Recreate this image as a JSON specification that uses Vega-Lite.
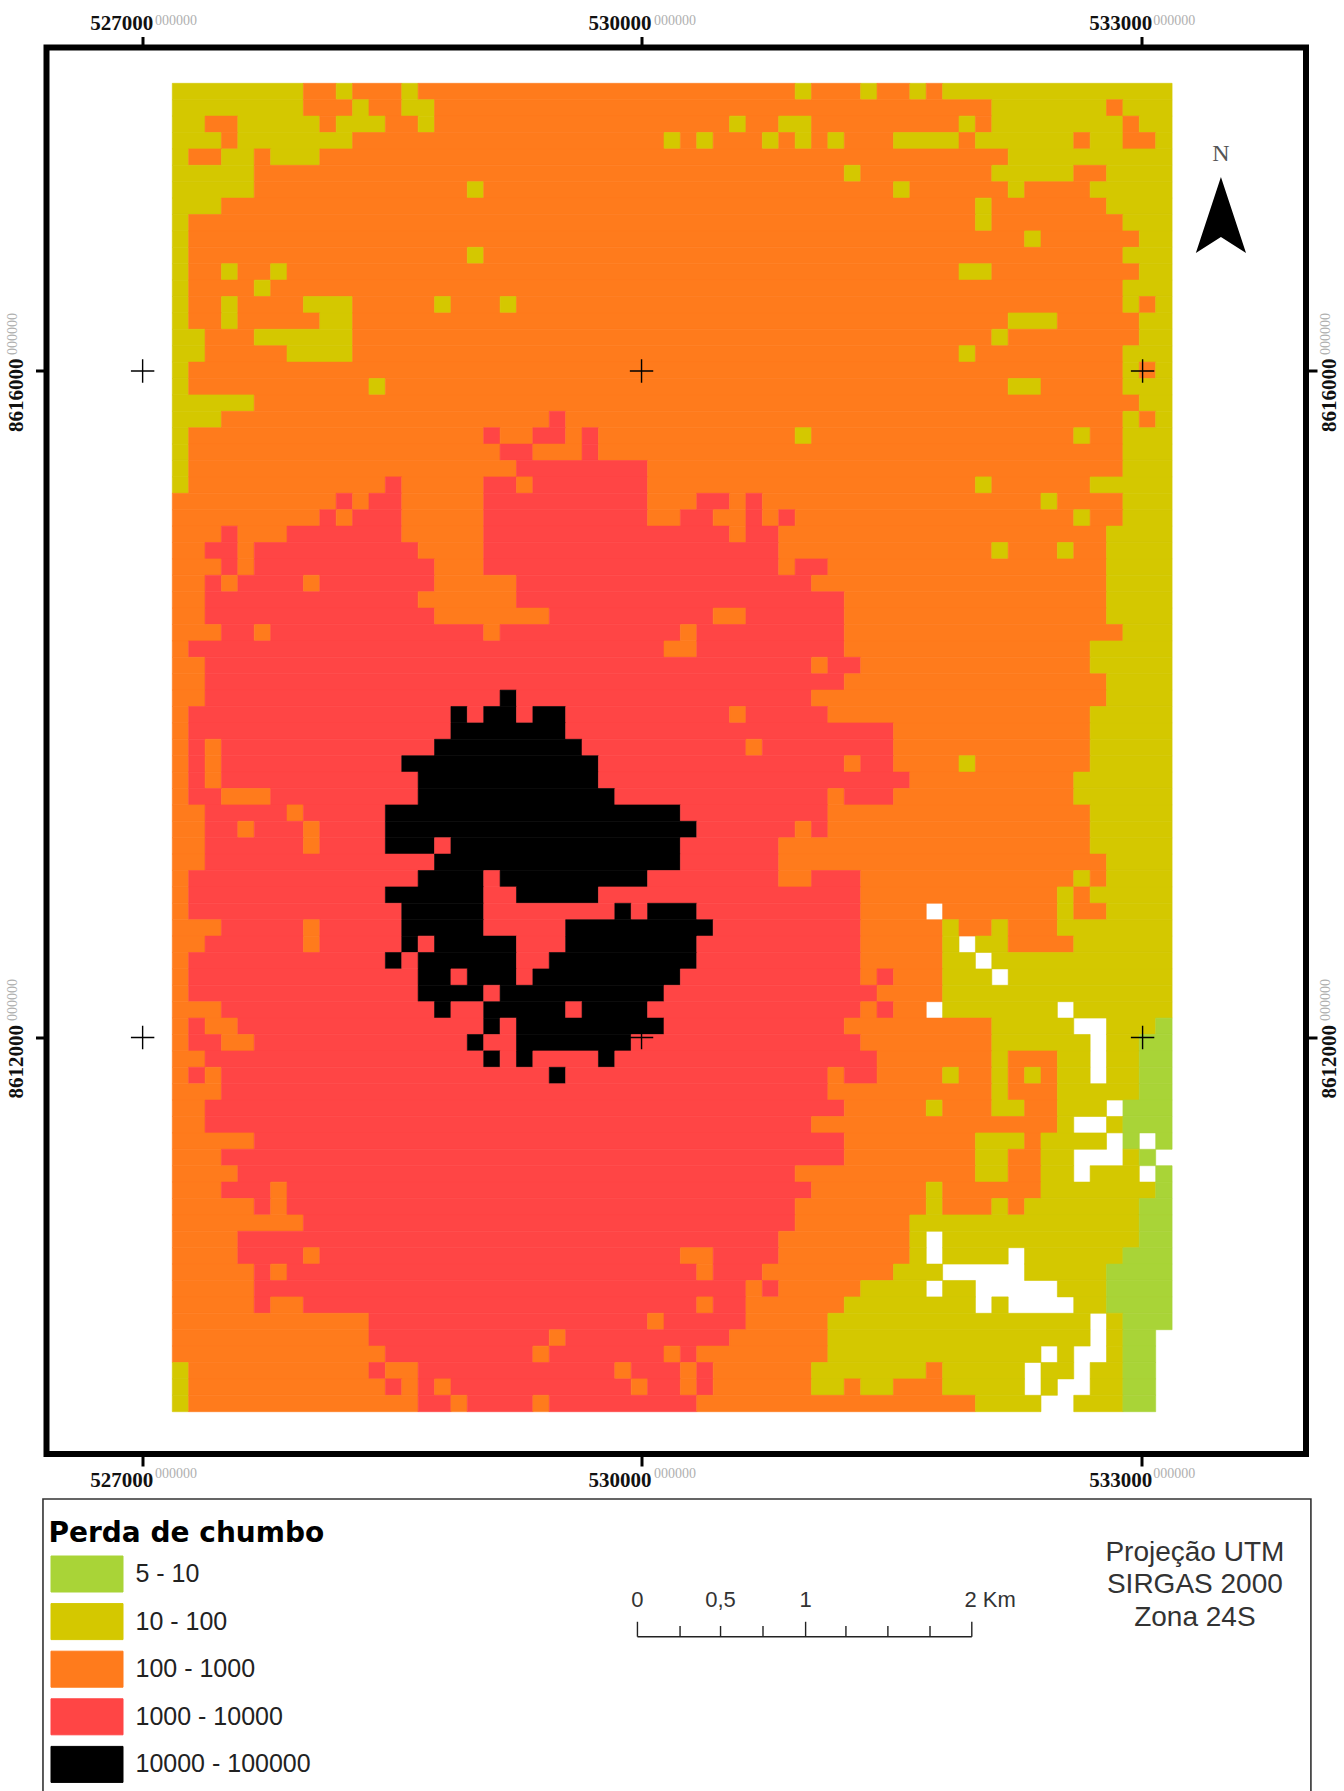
{"$schema":"https://vega.github.io/schema/vega-lite/v6.json","width":1259.5,"height":1406.5,"autosize":{"type":"none"},"padding":{"left":46.5,"top":47.5,"right":38,"bottom":337},"background":"#ffffff","view":{"stroke":"#000000","strokeWidth":6,"fill":null},"resolve":{"axis":{"x":"independent","y":"independent"}},
"datasets":{"cells":[
{"a":0,"b":8,"r":0,"c":2},{"a":8,"b":10,"r":0,"c":3},{"a":10,"b":11,"r":0,"c":2},{"a":11,"b":14,"r":0,"c":3},{"a":14,"b":15,"r":0,"c":2},{"a":15,"b":38,"r":0,"c":3},{"a":38,"b":39,"r":0,"c":2},{"a":39,"b":42,"r":0,"c":3},{"a":42,"b":43,"r":0,"c":2},{"a":43,"b":45,"r":0,"c":3},{"a":45,"b":46,"r":0,"c":2},{"a":46,"b":47,"r":0,"c":3},{"a":47,"b":61,"r":0,"c":2},
{"a":0,"b":8,"r":1,"c":2},{"a":8,"b":11,"r":1,"c":3},{"a":11,"b":12,"r":1,"c":2},{"a":12,"b":14,"r":1,"c":3},{"a":14,"b":16,"r":1,"c":2},{"a":16,"b":50,"r":1,"c":3},{"a":50,"b":57,"r":1,"c":2},{"a":57,"b":58,"r":1,"c":3},{"a":58,"b":61,"r":1,"c":2},
{"a":0,"b":2,"r":2,"c":2},{"a":2,"b":4,"r":2,"c":3},{"a":4,"b":9,"r":2,"c":2},{"a":9,"b":10,"r":2,"c":3},{"a":10,"b":13,"r":2,"c":2},{"a":13,"b":15,"r":2,"c":3},{"a":15,"b":16,"r":2,"c":2},{"a":16,"b":34,"r":2,"c":3},{"a":34,"b":35,"r":2,"c":2},{"a":35,"b":37,"r":2,"c":3},{"a":37,"b":39,"r":2,"c":2},{"a":39,"b":48,"r":2,"c":3},{"a":48,"b":49,"r":2,"c":2},{"a":49,"b":50,"r":2,"c":3},{"a":50,"b":58,"r":2,"c":2},{"a":58,"b":59,"r":2,"c":3},{"a":59,"b":61,"r":2,"c":2},
{"a":0,"b":3,"r":3,"c":2},{"a":3,"b":4,"r":3,"c":3},{"a":4,"b":11,"r":3,"c":2},{"a":11,"b":30,"r":3,"c":3},{"a":30,"b":31,"r":3,"c":2},{"a":31,"b":32,"r":3,"c":3},{"a":32,"b":33,"r":3,"c":2},{"a":33,"b":36,"r":3,"c":3},{"a":36,"b":37,"r":3,"c":2},{"a":37,"b":38,"r":3,"c":3},{"a":38,"b":39,"r":3,"c":2},{"a":39,"b":40,"r":3,"c":3},{"a":40,"b":41,"r":3,"c":2},{"a":41,"b":44,"r":3,"c":3},{"a":44,"b":48,"r":3,"c":2},{"a":48,"b":49,"r":3,"c":3},{"a":49,"b":55,"r":3,"c":2},{"a":55,"b":56,"r":3,"c":3},{"a":56,"b":58,"r":3,"c":2},{"a":58,"b":60,"r":3,"c":3},{"a":60,"b":61,"r":3,"c":2},
{"a":0,"b":1,"r":4,"c":2},{"a":1,"b":3,"r":4,"c":3},{"a":3,"b":5,"r":4,"c":2},{"a":5,"b":6,"r":4,"c":3},{"a":6,"b":9,"r":4,"c":2},{"a":9,"b":51,"r":4,"c":3},{"a":51,"b":61,"r":4,"c":2},
{"a":0,"b":5,"r":5,"c":2},{"a":5,"b":41,"r":5,"c":3},{"a":41,"b":42,"r":5,"c":2},{"a":42,"b":50,"r":5,"c":3},{"a":50,"b":55,"r":5,"c":2},{"a":55,"b":57,"r":5,"c":3},{"a":57,"b":61,"r":5,"c":2},
{"a":0,"b":5,"r":6,"c":2},{"a":5,"b":18,"r":6,"c":3},{"a":18,"b":19,"r":6,"c":2},{"a":19,"b":44,"r":6,"c":3},{"a":44,"b":45,"r":6,"c":2},{"a":45,"b":51,"r":6,"c":3},{"a":51,"b":52,"r":6,"c":2},{"a":52,"b":56,"r":6,"c":3},{"a":56,"b":61,"r":6,"c":2},
{"a":0,"b":3,"r":7,"c":2},{"a":3,"b":49,"r":7,"c":3},{"a":49,"b":50,"r":7,"c":2},{"a":50,"b":57,"r":7,"c":3},{"a":57,"b":61,"r":7,"c":2},
{"a":0,"b":1,"r":8,"c":2},{"a":1,"b":49,"r":8,"c":3},{"a":49,"b":50,"r":8,"c":2},{"a":50,"b":58,"r":8,"c":3},{"a":58,"b":61,"r":8,"c":2},
{"a":0,"b":1,"r":9,"c":2},{"a":1,"b":52,"r":9,"c":3},{"a":52,"b":53,"r":9,"c":2},{"a":53,"b":59,"r":9,"c":3},{"a":59,"b":61,"r":9,"c":2},
{"a":0,"b":1,"r":10,"c":2},{"a":1,"b":18,"r":10,"c":3},{"a":18,"b":19,"r":10,"c":2},{"a":19,"b":58,"r":10,"c":3},{"a":58,"b":61,"r":10,"c":2},
{"a":0,"b":1,"r":11,"c":2},{"a":1,"b":3,"r":11,"c":3},{"a":3,"b":4,"r":11,"c":2},{"a":4,"b":6,"r":11,"c":3},{"a":6,"b":7,"r":11,"c":2},{"a":7,"b":48,"r":11,"c":3},{"a":48,"b":50,"r":11,"c":2},{"a":50,"b":59,"r":11,"c":3},{"a":59,"b":61,"r":11,"c":2},
{"a":0,"b":1,"r":12,"c":2},{"a":1,"b":5,"r":12,"c":3},{"a":5,"b":6,"r":12,"c":2},{"a":6,"b":58,"r":12,"c":3},{"a":58,"b":61,"r":12,"c":2},
{"a":0,"b":1,"r":13,"c":2},{"a":1,"b":3,"r":13,"c":3},{"a":3,"b":4,"r":13,"c":2},{"a":4,"b":8,"r":13,"c":3},{"a":8,"b":11,"r":13,"c":2},{"a":11,"b":16,"r":13,"c":3},{"a":16,"b":17,"r":13,"c":2},{"a":17,"b":20,"r":13,"c":3},{"a":20,"b":21,"r":13,"c":2},{"a":21,"b":58,"r":13,"c":3},{"a":58,"b":59,"r":13,"c":2},{"a":59,"b":60,"r":13,"c":3},{"a":60,"b":61,"r":13,"c":2},
{"a":0,"b":1,"r":14,"c":2},{"a":1,"b":3,"r":14,"c":3},{"a":3,"b":4,"r":14,"c":2},{"a":4,"b":9,"r":14,"c":3},{"a":9,"b":11,"r":14,"c":2},{"a":11,"b":51,"r":14,"c":3},{"a":51,"b":54,"r":14,"c":2},{"a":54,"b":59,"r":14,"c":3},{"a":59,"b":61,"r":14,"c":2},
{"a":0,"b":2,"r":15,"c":2},{"a":2,"b":5,"r":15,"c":3},{"a":5,"b":11,"r":15,"c":2},{"a":11,"b":50,"r":15,"c":3},{"a":50,"b":51,"r":15,"c":2},{"a":51,"b":59,"r":15,"c":3},{"a":59,"b":61,"r":15,"c":2},
{"a":0,"b":2,"r":16,"c":2},{"a":2,"b":7,"r":16,"c":3},{"a":7,"b":11,"r":16,"c":2},{"a":11,"b":48,"r":16,"c":3},{"a":48,"b":49,"r":16,"c":2},{"a":49,"b":58,"r":16,"c":3},{"a":58,"b":61,"r":16,"c":2},
{"a":0,"b":1,"r":17,"c":2},{"a":1,"b":58,"r":17,"c":3},{"a":58,"b":59,"r":17,"c":2},{"a":59,"b":60,"r":17,"c":3},{"a":60,"b":61,"r":17,"c":2},
{"a":0,"b":1,"r":18,"c":2},{"a":1,"b":12,"r":18,"c":3},{"a":12,"b":13,"r":18,"c":2},{"a":13,"b":51,"r":18,"c":3},{"a":51,"b":53,"r":18,"c":2},{"a":53,"b":58,"r":18,"c":3},{"a":58,"b":61,"r":18,"c":2},
{"a":0,"b":5,"r":19,"c":2},{"a":5,"b":59,"r":19,"c":3},{"a":59,"b":61,"r":19,"c":2},
{"a":0,"b":3,"r":20,"c":2},{"a":3,"b":23,"r":20,"c":3},{"a":23,"b":24,"r":20,"c":4},{"a":24,"b":58,"r":20,"c":3},{"a":58,"b":59,"r":20,"c":2},{"a":59,"b":60,"r":20,"c":3},{"a":60,"b":61,"r":20,"c":2},
{"a":0,"b":1,"r":21,"c":2},{"a":1,"b":19,"r":21,"c":3},{"a":19,"b":20,"r":21,"c":4},{"a":20,"b":22,"r":21,"c":3},{"a":22,"b":24,"r":21,"c":4},{"a":24,"b":25,"r":21,"c":3},{"a":25,"b":26,"r":21,"c":4},{"a":26,"b":38,"r":21,"c":3},{"a":38,"b":39,"r":21,"c":2},{"a":39,"b":55,"r":21,"c":3},{"a":55,"b":56,"r":21,"c":2},{"a":56,"b":58,"r":21,"c":3},{"a":58,"b":61,"r":21,"c":2},
{"a":0,"b":1,"r":22,"c":2},{"a":1,"b":20,"r":22,"c":3},{"a":20,"b":22,"r":22,"c":4},{"a":22,"b":25,"r":22,"c":3},{"a":25,"b":26,"r":22,"c":4},{"a":26,"b":58,"r":22,"c":3},{"a":58,"b":61,"r":22,"c":2},
{"a":0,"b":1,"r":23,"c":2},{"a":1,"b":21,"r":23,"c":3},{"a":21,"b":29,"r":23,"c":4},{"a":29,"b":58,"r":23,"c":3},{"a":58,"b":61,"r":23,"c":2},
{"a":0,"b":1,"r":24,"c":2},{"a":1,"b":13,"r":24,"c":3},{"a":13,"b":14,"r":24,"c":4},{"a":14,"b":19,"r":24,"c":3},{"a":19,"b":21,"r":24,"c":4},{"a":21,"b":22,"r":24,"c":3},{"a":22,"b":29,"r":24,"c":4},{"a":29,"b":49,"r":24,"c":3},{"a":49,"b":50,"r":24,"c":2},{"a":50,"b":56,"r":24,"c":3},{"a":56,"b":61,"r":24,"c":2},
{"a":0,"b":10,"r":25,"c":3},{"a":10,"b":11,"r":25,"c":4},{"a":11,"b":12,"r":25,"c":3},{"a":12,"b":14,"r":25,"c":4},{"a":14,"b":19,"r":25,"c":3},{"a":19,"b":29,"r":25,"c":4},{"a":29,"b":32,"r":25,"c":3},{"a":32,"b":34,"r":25,"c":4},{"a":34,"b":35,"r":25,"c":3},{"a":35,"b":36,"r":25,"c":4},{"a":36,"b":53,"r":25,"c":3},{"a":53,"b":54,"r":25,"c":2},{"a":54,"b":58,"r":25,"c":3},{"a":58,"b":61,"r":25,"c":2},
{"a":0,"b":9,"r":26,"c":3},{"a":9,"b":10,"r":26,"c":4},{"a":10,"b":11,"r":26,"c":3},{"a":11,"b":14,"r":26,"c":4},{"a":14,"b":19,"r":26,"c":3},{"a":19,"b":29,"r":26,"c":4},{"a":29,"b":31,"r":26,"c":3},{"a":31,"b":33,"r":26,"c":4},{"a":33,"b":35,"r":26,"c":3},{"a":35,"b":36,"r":26,"c":4},{"a":36,"b":37,"r":26,"c":3},{"a":37,"b":38,"r":26,"c":4},{"a":38,"b":55,"r":26,"c":3},{"a":55,"b":56,"r":26,"c":2},{"a":56,"b":58,"r":26,"c":3},{"a":58,"b":61,"r":26,"c":2},
{"a":0,"b":3,"r":27,"c":3},{"a":3,"b":4,"r":27,"c":4},{"a":4,"b":7,"r":27,"c":3},{"a":7,"b":14,"r":27,"c":4},{"a":14,"b":19,"r":27,"c":3},{"a":19,"b":34,"r":27,"c":4},{"a":34,"b":35,"r":27,"c":3},{"a":35,"b":37,"r":27,"c":4},{"a":37,"b":57,"r":27,"c":3},{"a":57,"b":61,"r":27,"c":2},
{"a":0,"b":2,"r":28,"c":3},{"a":2,"b":4,"r":28,"c":4},{"a":4,"b":5,"r":28,"c":3},{"a":5,"b":15,"r":28,"c":4},{"a":15,"b":19,"r":28,"c":3},{"a":19,"b":37,"r":28,"c":4},{"a":37,"b":50,"r":28,"c":3},{"a":50,"b":51,"r":28,"c":2},{"a":51,"b":54,"r":28,"c":3},{"a":54,"b":55,"r":28,"c":2},{"a":55,"b":57,"r":28,"c":3},{"a":57,"b":61,"r":28,"c":2},
{"a":0,"b":3,"r":29,"c":3},{"a":3,"b":4,"r":29,"c":4},{"a":4,"b":5,"r":29,"c":3},{"a":5,"b":16,"r":29,"c":4},{"a":16,"b":19,"r":29,"c":3},{"a":19,"b":37,"r":29,"c":4},{"a":37,"b":38,"r":29,"c":3},{"a":38,"b":40,"r":29,"c":4},{"a":40,"b":57,"r":29,"c":3},{"a":57,"b":61,"r":29,"c":2},
{"a":0,"b":2,"r":30,"c":3},{"a":2,"b":3,"r":30,"c":4},{"a":3,"b":4,"r":30,"c":3},{"a":4,"b":8,"r":30,"c":4},{"a":8,"b":9,"r":30,"c":3},{"a":9,"b":16,"r":30,"c":4},{"a":16,"b":21,"r":30,"c":3},{"a":21,"b":39,"r":30,"c":4},{"a":39,"b":57,"r":30,"c":3},{"a":57,"b":61,"r":30,"c":2},
{"a":0,"b":2,"r":31,"c":3},{"a":2,"b":15,"r":31,"c":4},{"a":15,"b":21,"r":31,"c":3},{"a":21,"b":41,"r":31,"c":4},{"a":41,"b":57,"r":31,"c":3},{"a":57,"b":61,"r":31,"c":2},
{"a":0,"b":2,"r":32,"c":3},{"a":2,"b":16,"r":32,"c":4},{"a":16,"b":23,"r":32,"c":3},{"a":23,"b":33,"r":32,"c":4},{"a":33,"b":35,"r":32,"c":3},{"a":35,"b":41,"r":32,"c":4},{"a":41,"b":57,"r":32,"c":3},{"a":57,"b":61,"r":32,"c":2},
{"a":0,"b":3,"r":33,"c":3},{"a":3,"b":5,"r":33,"c":4},{"a":5,"b":6,"r":33,"c":3},{"a":6,"b":19,"r":33,"c":4},{"a":19,"b":20,"r":33,"c":3},{"a":20,"b":31,"r":33,"c":4},{"a":31,"b":32,"r":33,"c":3},{"a":32,"b":41,"r":33,"c":4},{"a":41,"b":58,"r":33,"c":3},{"a":58,"b":61,"r":33,"c":2},
{"a":0,"b":1,"r":34,"c":3},{"a":1,"b":30,"r":34,"c":4},{"a":30,"b":32,"r":34,"c":3},{"a":32,"b":41,"r":34,"c":4},{"a":41,"b":56,"r":34,"c":3},{"a":56,"b":61,"r":34,"c":2},
{"a":0,"b":2,"r":35,"c":3},{"a":2,"b":39,"r":35,"c":4},{"a":39,"b":40,"r":35,"c":3},{"a":40,"b":42,"r":35,"c":4},{"a":42,"b":56,"r":35,"c":3},{"a":56,"b":61,"r":35,"c":2},
{"a":0,"b":2,"r":36,"c":3},{"a":2,"b":41,"r":36,"c":4},{"a":41,"b":57,"r":36,"c":3},{"a":57,"b":61,"r":36,"c":2},
{"a":0,"b":2,"r":37,"c":3},{"a":2,"b":20,"r":37,"c":4},{"a":20,"b":21,"r":37,"c":5},{"a":21,"b":39,"r":37,"c":4},{"a":39,"b":57,"r":37,"c":3},{"a":57,"b":61,"r":37,"c":2},
{"a":0,"b":1,"r":38,"c":3},{"a":1,"b":17,"r":38,"c":4},{"a":17,"b":18,"r":38,"c":5},{"a":18,"b":19,"r":38,"c":4},{"a":19,"b":21,"r":38,"c":5},{"a":21,"b":22,"r":38,"c":4},{"a":22,"b":24,"r":38,"c":5},{"a":24,"b":34,"r":38,"c":4},{"a":34,"b":35,"r":38,"c":3},{"a":35,"b":40,"r":38,"c":4},{"a":40,"b":56,"r":38,"c":3},{"a":56,"b":61,"r":38,"c":2},
{"a":0,"b":1,"r":39,"c":3},{"a":1,"b":17,"r":39,"c":4},{"a":17,"b":24,"r":39,"c":5},{"a":24,"b":44,"r":39,"c":4},{"a":44,"b":56,"r":39,"c":3},{"a":56,"b":61,"r":39,"c":2},
{"a":0,"b":1,"r":40,"c":3},{"a":1,"b":2,"r":40,"c":4},{"a":2,"b":3,"r":40,"c":3},{"a":3,"b":16,"r":40,"c":4},{"a":16,"b":25,"r":40,"c":5},{"a":25,"b":35,"r":40,"c":4},{"a":35,"b":36,"r":40,"c":3},{"a":36,"b":44,"r":40,"c":4},{"a":44,"b":56,"r":40,"c":3},{"a":56,"b":61,"r":40,"c":2},
{"a":0,"b":1,"r":41,"c":3},{"a":1,"b":2,"r":41,"c":4},{"a":2,"b":3,"r":41,"c":3},{"a":3,"b":14,"r":41,"c":4},{"a":14,"b":26,"r":41,"c":5},{"a":26,"b":41,"r":41,"c":4},{"a":41,"b":42,"r":41,"c":3},{"a":42,"b":44,"r":41,"c":4},{"a":44,"b":48,"r":41,"c":3},{"a":48,"b":49,"r":41,"c":2},{"a":49,"b":56,"r":41,"c":3},{"a":56,"b":61,"r":41,"c":2},
{"a":0,"b":1,"r":42,"c":3},{"a":1,"b":2,"r":42,"c":4},{"a":2,"b":3,"r":42,"c":3},{"a":3,"b":15,"r":42,"c":4},{"a":15,"b":26,"r":42,"c":5},{"a":26,"b":45,"r":42,"c":4},{"a":45,"b":55,"r":42,"c":3},{"a":55,"b":61,"r":42,"c":2},
{"a":0,"b":1,"r":43,"c":3},{"a":1,"b":3,"r":43,"c":4},{"a":3,"b":6,"r":43,"c":3},{"a":6,"b":15,"r":43,"c":4},{"a":15,"b":27,"r":43,"c":5},{"a":27,"b":40,"r":43,"c":4},{"a":40,"b":41,"r":43,"c":3},{"a":41,"b":44,"r":43,"c":4},{"a":44,"b":55,"r":43,"c":3},{"a":55,"b":61,"r":43,"c":2},
{"a":0,"b":2,"r":44,"c":3},{"a":2,"b":7,"r":44,"c":4},{"a":7,"b":8,"r":44,"c":3},{"a":8,"b":13,"r":44,"c":4},{"a":13,"b":31,"r":44,"c":5},{"a":31,"b":40,"r":44,"c":4},{"a":40,"b":56,"r":44,"c":3},{"a":56,"b":61,"r":44,"c":2},
{"a":0,"b":2,"r":45,"c":3},{"a":2,"b":4,"r":45,"c":4},{"a":4,"b":5,"r":45,"c":3},{"a":5,"b":8,"r":45,"c":4},{"a":8,"b":9,"r":45,"c":3},{"a":9,"b":13,"r":45,"c":4},{"a":13,"b":32,"r":45,"c":5},{"a":32,"b":38,"r":45,"c":4},{"a":38,"b":39,"r":45,"c":3},{"a":39,"b":40,"r":45,"c":4},{"a":40,"b":56,"r":45,"c":3},{"a":56,"b":61,"r":45,"c":2},
{"a":0,"b":2,"r":46,"c":3},{"a":2,"b":8,"r":46,"c":4},{"a":8,"b":9,"r":46,"c":3},{"a":9,"b":13,"r":46,"c":4},{"a":13,"b":16,"r":46,"c":5},{"a":16,"b":17,"r":46,"c":4},{"a":17,"b":31,"r":46,"c":5},{"a":31,"b":37,"r":46,"c":4},{"a":37,"b":56,"r":46,"c":3},{"a":56,"b":61,"r":46,"c":2},
{"a":0,"b":2,"r":47,"c":3},{"a":2,"b":16,"r":47,"c":4},{"a":16,"b":31,"r":47,"c":5},{"a":31,"b":37,"r":47,"c":4},{"a":37,"b":57,"r":47,"c":3},{"a":57,"b":61,"r":47,"c":2},
{"a":0,"b":1,"r":48,"c":3},{"a":1,"b":15,"r":48,"c":4},{"a":15,"b":19,"r":48,"c":5},{"a":19,"b":20,"r":48,"c":4},{"a":20,"b":29,"r":48,"c":5},{"a":29,"b":37,"r":48,"c":4},{"a":37,"b":39,"r":48,"c":3},{"a":39,"b":42,"r":48,"c":4},{"a":42,"b":55,"r":48,"c":3},{"a":55,"b":56,"r":48,"c":2},{"a":56,"b":57,"r":48,"c":3},{"a":57,"b":61,"r":48,"c":2},
{"a":0,"b":1,"r":49,"c":3},{"a":1,"b":13,"r":49,"c":4},{"a":13,"b":19,"r":49,"c":5},{"a":19,"b":21,"r":49,"c":4},{"a":21,"b":26,"r":49,"c":5},{"a":26,"b":42,"r":49,"c":4},{"a":42,"b":54,"r":49,"c":3},{"a":54,"b":55,"r":49,"c":2},{"a":55,"b":56,"r":49,"c":3},{"a":56,"b":61,"r":49,"c":2},
{"a":0,"b":1,"r":50,"c":3},{"a":1,"b":14,"r":50,"c":4},{"a":14,"b":19,"r":50,"c":5},{"a":19,"b":27,"r":50,"c":4},{"a":27,"b":28,"r":50,"c":5},{"a":28,"b":29,"r":50,"c":4},{"a":29,"b":32,"r":50,"c":5},{"a":32,"b":42,"r":50,"c":4},{"a":42,"b":46,"r":50,"c":3},{"a":47,"b":54,"r":50,"c":3},{"a":54,"b":55,"r":50,"c":2},{"a":55,"b":57,"r":50,"c":3},{"a":57,"b":61,"r":50,"c":2},
{"a":0,"b":3,"r":51,"c":3},{"a":3,"b":8,"r":51,"c":4},{"a":8,"b":9,"r":51,"c":3},{"a":9,"b":14,"r":51,"c":4},{"a":14,"b":19,"r":51,"c":5},{"a":19,"b":24,"r":51,"c":4},{"a":24,"b":33,"r":51,"c":5},{"a":33,"b":42,"r":51,"c":4},{"a":42,"b":47,"r":51,"c":3},{"a":47,"b":48,"r":51,"c":2},{"a":48,"b":50,"r":51,"c":3},{"a":50,"b":51,"r":51,"c":2},{"a":51,"b":54,"r":51,"c":3},{"a":54,"b":61,"r":51,"c":2},
{"a":0,"b":2,"r":52,"c":3},{"a":2,"b":8,"r":52,"c":4},{"a":8,"b":9,"r":52,"c":3},{"a":9,"b":14,"r":52,"c":4},{"a":14,"b":15,"r":52,"c":5},{"a":15,"b":16,"r":52,"c":4},{"a":16,"b":21,"r":52,"c":5},{"a":21,"b":24,"r":52,"c":4},{"a":24,"b":32,"r":52,"c":5},{"a":32,"b":42,"r":52,"c":4},{"a":42,"b":47,"r":52,"c":3},{"a":47,"b":48,"r":52,"c":2},{"a":49,"b":51,"r":52,"c":2},{"a":51,"b":55,"r":52,"c":3},{"a":55,"b":61,"r":52,"c":2},
{"a":0,"b":1,"r":53,"c":3},{"a":1,"b":13,"r":53,"c":4},{"a":13,"b":14,"r":53,"c":5},{"a":14,"b":15,"r":53,"c":4},{"a":15,"b":21,"r":53,"c":5},{"a":21,"b":23,"r":53,"c":4},{"a":23,"b":32,"r":53,"c":5},{"a":32,"b":42,"r":53,"c":4},{"a":42,"b":47,"r":53,"c":3},{"a":47,"b":49,"r":53,"c":2},{"a":50,"b":61,"r":53,"c":2},
{"a":0,"b":1,"r":54,"c":3},{"a":1,"b":15,"r":54,"c":4},{"a":15,"b":17,"r":54,"c":5},{"a":17,"b":18,"r":54,"c":4},{"a":18,"b":21,"r":54,"c":5},{"a":21,"b":22,"r":54,"c":4},{"a":22,"b":31,"r":54,"c":5},{"a":31,"b":42,"r":54,"c":4},{"a":42,"b":43,"r":54,"c":3},{"a":43,"b":44,"r":54,"c":4},{"a":44,"b":47,"r":54,"c":3},{"a":47,"b":50,"r":54,"c":2},{"a":51,"b":61,"r":54,"c":2},
{"a":0,"b":1,"r":55,"c":3},{"a":1,"b":15,"r":55,"c":4},{"a":15,"b":19,"r":55,"c":5},{"a":19,"b":20,"r":55,"c":4},{"a":20,"b":30,"r":55,"c":5},{"a":30,"b":43,"r":55,"c":4},{"a":43,"b":47,"r":55,"c":3},{"a":47,"b":61,"r":55,"c":2},
{"a":0,"b":3,"r":56,"c":3},{"a":3,"b":16,"r":56,"c":4},{"a":16,"b":17,"r":56,"c":5},{"a":17,"b":19,"r":56,"c":4},{"a":19,"b":24,"r":56,"c":5},{"a":24,"b":25,"r":56,"c":4},{"a":25,"b":29,"r":56,"c":5},{"a":29,"b":42,"r":56,"c":4},{"a":42,"b":43,"r":56,"c":3},{"a":43,"b":44,"r":56,"c":4},{"a":44,"b":46,"r":56,"c":3},{"a":47,"b":54,"r":56,"c":2},{"a":55,"b":61,"r":56,"c":2},
{"a":0,"b":1,"r":57,"c":3},{"a":1,"b":2,"r":57,"c":4},{"a":2,"b":4,"r":57,"c":3},{"a":4,"b":19,"r":57,"c":4},{"a":19,"b":20,"r":57,"c":5},{"a":20,"b":21,"r":57,"c":4},{"a":21,"b":30,"r":57,"c":5},{"a":30,"b":41,"r":57,"c":4},{"a":41,"b":50,"r":57,"c":3},{"a":50,"b":55,"r":57,"c":2},{"a":57,"b":60,"r":57,"c":2},{"a":60,"b":61,"r":57,"c":1},
{"a":0,"b":1,"r":58,"c":3},{"a":1,"b":3,"r":58,"c":4},{"a":3,"b":5,"r":58,"c":3},{"a":5,"b":18,"r":58,"c":4},{"a":18,"b":19,"r":58,"c":5},{"a":19,"b":21,"r":58,"c":4},{"a":21,"b":28,"r":58,"c":5},{"a":28,"b":42,"r":58,"c":4},{"a":42,"b":50,"r":58,"c":3},{"a":50,"b":56,"r":58,"c":2},{"a":57,"b":59,"r":58,"c":2},{"a":59,"b":61,"r":58,"c":1},
{"a":0,"b":2,"r":59,"c":3},{"a":2,"b":19,"r":59,"c":4},{"a":19,"b":20,"r":59,"c":5},{"a":20,"b":21,"r":59,"c":4},{"a":21,"b":22,"r":59,"c":5},{"a":22,"b":26,"r":59,"c":4},{"a":26,"b":27,"r":59,"c":5},{"a":27,"b":43,"r":59,"c":4},{"a":43,"b":50,"r":59,"c":3},{"a":50,"b":51,"r":59,"c":2},{"a":51,"b":54,"r":59,"c":3},{"a":54,"b":56,"r":59,"c":2},{"a":57,"b":59,"r":59,"c":2},{"a":59,"b":61,"r":59,"c":1},
{"a":0,"b":1,"r":60,"c":3},{"a":1,"b":2,"r":60,"c":4},{"a":2,"b":3,"r":60,"c":3},{"a":3,"b":23,"r":60,"c":4},{"a":23,"b":24,"r":60,"c":5},{"a":24,"b":40,"r":60,"c":4},{"a":40,"b":41,"r":60,"c":3},{"a":41,"b":43,"r":60,"c":4},{"a":43,"b":47,"r":60,"c":3},{"a":47,"b":48,"r":60,"c":2},{"a":48,"b":50,"r":60,"c":3},{"a":50,"b":51,"r":60,"c":2},{"a":51,"b":52,"r":60,"c":3},{"a":52,"b":53,"r":60,"c":2},{"a":53,"b":54,"r":60,"c":3},{"a":54,"b":56,"r":60,"c":2},{"a":57,"b":59,"r":60,"c":2},{"a":59,"b":61,"r":60,"c":1},
{"a":0,"b":3,"r":61,"c":3},{"a":3,"b":40,"r":61,"c":4},{"a":40,"b":50,"r":61,"c":3},{"a":50,"b":51,"r":61,"c":2},{"a":51,"b":54,"r":61,"c":3},{"a":54,"b":59,"r":61,"c":2},{"a":59,"b":61,"r":61,"c":1},
{"a":0,"b":2,"r":62,"c":3},{"a":2,"b":41,"r":62,"c":4},{"a":41,"b":46,"r":62,"c":3},{"a":46,"b":47,"r":62,"c":2},{"a":47,"b":50,"r":62,"c":3},{"a":50,"b":52,"r":62,"c":2},{"a":52,"b":54,"r":62,"c":3},{"a":54,"b":57,"r":62,"c":2},{"a":58,"b":61,"r":62,"c":1},
{"a":0,"b":2,"r":63,"c":3},{"a":2,"b":39,"r":63,"c":4},{"a":39,"b":54,"r":63,"c":3},{"a":54,"b":55,"r":63,"c":2},{"a":57,"b":58,"r":63,"c":2},{"a":58,"b":61,"r":63,"c":1},
{"a":0,"b":5,"r":64,"c":3},{"a":5,"b":41,"r":64,"c":4},{"a":41,"b":49,"r":64,"c":3},{"a":49,"b":52,"r":64,"c":2},{"a":52,"b":53,"r":64,"c":3},{"a":53,"b":57,"r":64,"c":2},{"a":58,"b":59,"r":64,"c":1},{"a":60,"b":61,"r":64,"c":1},
{"a":0,"b":3,"r":65,"c":3},{"a":3,"b":41,"r":65,"c":4},{"a":41,"b":49,"r":65,"c":3},{"a":49,"b":51,"r":65,"c":2},{"a":51,"b":53,"r":65,"c":3},{"a":53,"b":55,"r":65,"c":2},{"a":58,"b":59,"r":65,"c":2},{"a":59,"b":60,"r":65,"c":1},
{"a":0,"b":4,"r":66,"c":3},{"a":4,"b":38,"r":66,"c":4},{"a":38,"b":49,"r":66,"c":3},{"a":49,"b":51,"r":66,"c":2},{"a":51,"b":53,"r":66,"c":3},{"a":53,"b":55,"r":66,"c":2},{"a":56,"b":59,"r":66,"c":2},{"a":60,"b":61,"r":66,"c":1},
{"a":0,"b":3,"r":67,"c":3},{"a":3,"b":6,"r":67,"c":4},{"a":6,"b":7,"r":67,"c":3},{"a":7,"b":39,"r":67,"c":4},{"a":39,"b":46,"r":67,"c":3},{"a":46,"b":47,"r":67,"c":2},{"a":47,"b":53,"r":67,"c":3},{"a":53,"b":60,"r":67,"c":2},{"a":60,"b":61,"r":67,"c":1},
{"a":0,"b":5,"r":68,"c":3},{"a":5,"b":6,"r":68,"c":4},{"a":6,"b":7,"r":68,"c":3},{"a":7,"b":38,"r":68,"c":4},{"a":38,"b":46,"r":68,"c":3},{"a":46,"b":47,"r":68,"c":2},{"a":47,"b":50,"r":68,"c":3},{"a":50,"b":51,"r":68,"c":2},{"a":51,"b":52,"r":68,"c":3},{"a":52,"b":59,"r":68,"c":2},{"a":59,"b":61,"r":68,"c":1},
{"a":0,"b":8,"r":69,"c":3},{"a":8,"b":38,"r":69,"c":4},{"a":38,"b":45,"r":69,"c":3},{"a":45,"b":59,"r":69,"c":2},{"a":59,"b":61,"r":69,"c":1},
{"a":0,"b":4,"r":70,"c":3},{"a":4,"b":37,"r":70,"c":4},{"a":37,"b":45,"r":70,"c":3},{"a":45,"b":46,"r":70,"c":2},{"a":47,"b":59,"r":70,"c":2},{"a":59,"b":61,"r":70,"c":1},
{"a":0,"b":4,"r":71,"c":3},{"a":4,"b":8,"r":71,"c":4},{"a":8,"b":9,"r":71,"c":3},{"a":9,"b":31,"r":71,"c":4},{"a":31,"b":33,"r":71,"c":3},{"a":33,"b":37,"r":71,"c":4},{"a":37,"b":45,"r":71,"c":3},{"a":45,"b":46,"r":71,"c":2},{"a":47,"b":51,"r":71,"c":2},{"a":52,"b":58,"r":71,"c":2},{"a":58,"b":61,"r":71,"c":1},
{"a":0,"b":5,"r":72,"c":3},{"a":5,"b":6,"r":72,"c":4},{"a":6,"b":7,"r":72,"c":3},{"a":7,"b":32,"r":72,"c":4},{"a":32,"b":33,"r":72,"c":3},{"a":33,"b":36,"r":72,"c":4},{"a":36,"b":44,"r":72,"c":3},{"a":44,"b":47,"r":72,"c":2},{"a":52,"b":57,"r":72,"c":2},{"a":57,"b":61,"r":72,"c":1},
{"a":0,"b":5,"r":73,"c":3},{"a":5,"b":35,"r":73,"c":4},{"a":35,"b":36,"r":73,"c":3},{"a":36,"b":37,"r":73,"c":4},{"a":37,"b":42,"r":73,"c":3},{"a":42,"b":46,"r":73,"c":2},{"a":47,"b":49,"r":73,"c":2},{"a":54,"b":57,"r":73,"c":2},{"a":57,"b":61,"r":73,"c":1},
{"a":0,"b":5,"r":74,"c":3},{"a":5,"b":6,"r":74,"c":4},{"a":6,"b":8,"r":74,"c":3},{"a":8,"b":32,"r":74,"c":4},{"a":32,"b":33,"r":74,"c":3},{"a":33,"b":35,"r":74,"c":4},{"a":35,"b":41,"r":74,"c":3},{"a":41,"b":49,"r":74,"c":2},{"a":50,"b":51,"r":74,"c":2},{"a":55,"b":57,"r":74,"c":2},{"a":57,"b":61,"r":74,"c":1},
{"a":0,"b":12,"r":75,"c":3},{"a":12,"b":29,"r":75,"c":4},{"a":29,"b":30,"r":75,"c":3},{"a":30,"b":35,"r":75,"c":4},{"a":35,"b":40,"r":75,"c":3},{"a":40,"b":56,"r":75,"c":2},{"a":57,"b":58,"r":75,"c":2},{"a":58,"b":61,"r":75,"c":1},
{"a":0,"b":12,"r":76,"c":3},{"a":12,"b":23,"r":76,"c":4},{"a":23,"b":24,"r":76,"c":3},{"a":24,"b":34,"r":76,"c":4},{"a":34,"b":40,"r":76,"c":3},{"a":40,"b":56,"r":76,"c":2},{"a":57,"b":58,"r":76,"c":2},{"a":58,"b":60,"r":76,"c":1},
{"a":0,"b":13,"r":77,"c":3},{"a":13,"b":22,"r":77,"c":4},{"a":22,"b":23,"r":77,"c":3},{"a":23,"b":30,"r":77,"c":4},{"a":30,"b":31,"r":77,"c":3},{"a":31,"b":32,"r":77,"c":4},{"a":32,"b":40,"r":77,"c":3},{"a":40,"b":53,"r":77,"c":2},{"a":54,"b":55,"r":77,"c":2},{"a":57,"b":58,"r":77,"c":2},{"a":58,"b":60,"r":77,"c":1},
{"a":0,"b":1,"r":78,"c":2},{"a":1,"b":12,"r":78,"c":3},{"a":12,"b":13,"r":78,"c":4},{"a":13,"b":15,"r":78,"c":3},{"a":15,"b":27,"r":78,"c":4},{"a":27,"b":28,"r":78,"c":3},{"a":28,"b":31,"r":78,"c":4},{"a":31,"b":32,"r":78,"c":3},{"a":32,"b":33,"r":78,"c":4},{"a":33,"b":39,"r":78,"c":3},{"a":39,"b":46,"r":78,"c":2},{"a":46,"b":47,"r":78,"c":3},{"a":47,"b":52,"r":78,"c":2},{"a":53,"b":55,"r":78,"c":2},{"a":56,"b":58,"r":78,"c":2},{"a":58,"b":60,"r":78,"c":1},
{"a":0,"b":1,"r":79,"c":2},{"a":1,"b":13,"r":79,"c":3},{"a":13,"b":14,"r":79,"c":4},{"a":14,"b":15,"r":79,"c":3},{"a":15,"b":16,"r":79,"c":4},{"a":16,"b":17,"r":79,"c":3},{"a":17,"b":28,"r":79,"c":4},{"a":28,"b":29,"r":79,"c":3},{"a":29,"b":31,"r":79,"c":4},{"a":31,"b":32,"r":79,"c":3},{"a":32,"b":33,"r":79,"c":4},{"a":33,"b":39,"r":79,"c":3},{"a":39,"b":41,"r":79,"c":2},{"a":41,"b":42,"r":79,"c":3},{"a":42,"b":44,"r":79,"c":2},{"a":44,"b":47,"r":79,"c":3},{"a":47,"b":52,"r":79,"c":2},{"a":53,"b":54,"r":79,"c":2},{"a":56,"b":58,"r":79,"c":2},{"a":58,"b":60,"r":79,"c":1},
{"a":0,"b":1,"r":80,"c":2},{"a":1,"b":15,"r":80,"c":3},{"a":15,"b":17,"r":80,"c":4},{"a":17,"b":18,"r":80,"c":3},{"a":18,"b":22,"r":80,"c":4},{"a":22,"b":23,"r":80,"c":3},{"a":23,"b":32,"r":80,"c":4},{"a":32,"b":49,"r":80,"c":3},{"a":49,"b":53,"r":80,"c":2},{"a":55,"b":58,"r":80,"c":2},{"a":58,"b":60,"r":80,"c":1}
]},
"layer":[
{"data":{"name":"cells"},"mark":{"type":"bar","orient":"horizontal","height":16.4,"strokeWidth":0.6},"encoding":{
"x":{"field":"a","type":"quantitative","scale":{"domain":[-7.675,69.17],"nice":false,"zero":false,"padding":0},"axis":{"orient":"bottom","values":[-1.81,28.6,59.15],"title":null,"domain":false,"grid":false,"tickSize":12,"tickWidth":3,"tickColor":"#000000","labelFont":"Liberation Serif","labelFontWeight":"bold","labelFontSize":21,"labelColor":"#111111","labelAlign":"right","labelOffset":10,"labelPadding":3,"labelFlush":false,"labelOverlap":false,"labelExpr":"datum.value<0?'527000':datum.value<40?'530000':'533000'"}},
"x2":{"field":"b"},
"y":{"field":"r","type":"quantitative","scale":{"domain":[83.08,-2.683],"nice":false,"zero":false,"padding":0},"axis":{"orient":"left","values":[17.04,57.68],"title":null,"domain":false,"grid":false,"tickSize":11,"tickWidth":3,"tickColor":"#000000","labelFont":"Liberation Serif","labelFontWeight":"bold","labelFontSize":21,"labelColor":"#111111","labelAngle":270,"labelAlign":"right","labelBaseline":"middle","labelOffset":-13,"labelPadding":19,"labelFlush":false,"labelOverlap":false,"labelExpr":"datum.value<30?'8616000':'8612000'"}},
"color":{"field":"c","type":"nominal","scale":{"domain":[1,2,3,4,5],"range":["#a9d437","#d4c800","#ff7b1c","#ff4545","#000000"]},"legend":{"orient":"none","legendX":2,"legendY":1472,"title":"Perda de chumbo","titleFont":"DejaVu Sans","titleFontSize":28,"titleFontWeight":"bold","titleColor":"#000000","titlePadding":8,"titleLimit":400,"labelFont":"Liberation Sans","labelFontSize":25,"labelColor":"#222222","labelLimit":400,"symbolType":"M-2,-1H2V1H-2Z","symbolSize":1296,"symbolStrokeColor":"#666666","symbolStrokeWidth":1,"symbolOffset":20,"labelOffset":30,"rowPadding":6.6,"padding":0,"labelExpr":"['5 - 10','10 - 100','100 - 1000','1000 - 10000','10000 - 100000'][datum.value-1]"}},
"stroke":{"field":"c","type":"nominal","scale":{"domain":[1,2,3,4,5],"range":["#a9d437","#d4c800","#ff7b1c","#ff4545","#000000"]},"legend":null}}},
{"data":{"values":[{"a":-1.81,"r":17.04},{"a":28.63,"r":17.04},{"a":59.2,"r":17.04},{"a":-1.81,"r":57.68},{"a":28.63,"r":57.68},{"a":59.2,"r":57.68}]},"mark":{"type":"point","shape":"M-1,0H1M0,-1V1","size":548,"filled":false,"stroke":"#000000","strokeWidth":1.4,"opacity":1},"encoding":{
"x":{"field":"a","type":"quantitative","scale":{"domain":[-7.675,69.17],"nice":false,"zero":false,"padding":0},"axis":{"orient":"top","values":[-1.81,28.6,59.15],"title":null,"domain":false,"grid":false,"tickSize":11,"tickWidth":3,"tickColor":"#000000","labelFont":"Liberation Serif","labelFontWeight":"bold","labelFontSize":21,"labelColor":"#111111","labelAlign":"right","labelOffset":10,"labelPadding":3,"labelFlush":false,"labelOverlap":false,"labelExpr":"datum.value<0?'527000':datum.value<40?'530000':'533000'"}},
"y":{"field":"r","type":"quantitative","scale":{"domain":[83.08,-2.683],"nice":false,"zero":false,"padding":0},"axis":{"orient":"right","values":[17.04,57.68],"title":null,"domain":false,"grid":false,"tickSize":11,"tickWidth":3,"tickColor":"#000000","labelFont":"Liberation Serif","labelFontWeight":"bold","labelFontSize":21,"labelColor":"#111111","labelAngle":270,"labelAlign":"right","labelBaseline":"middle","labelOffset":-13,"labelPadding":12,"labelFlush":false,"labelOverlap":false,"labelExpr":"datum.value<30?'8616000':'8612000'"}}}},
{"data":{"values":[{"a":-7.89,"b":69.47,"r":85.82,"s":105}]},"mark":{"type":"rect","fill":null,"stroke":"#333333","strokeWidth":1.6},"encoding":{"x":{"field":"a","type":"quantitative","axis":null},"x2":{"field":"b"},"y":{"field":"r","type":"quantitative","axis":null},"y2":{"field":"s"}}},
{"data":{"values":[{"a":28.38,"b":48.78,"r":94.22,"s":94.22},{"a":28.38,"b":28.38,"r":93.31,"s":94.22},{"a":30.98,"b":30.98,"r":93.57,"s":94.22},{"a":33.45,"b":33.45,"r":93.57,"s":94.22},{"a":36.04,"b":36.04,"r":93.57,"s":94.22},{"a":38.64,"b":38.64,"r":93.31,"s":94.22},{"a":41.1,"b":41.1,"r":93.57,"s":94.22},{"a":43.66,"b":43.66,"r":93.57,"s":94.22},{"a":46.23,"b":46.23,"r":93.57,"s":94.22},{"a":48.78,"b":48.78,"r":93.31,"s":94.22}]},"mark":{"type":"rule","stroke":"#222222","strokeWidth":1.4},"encoding":{"x":{"field":"a","type":"quantitative","axis":null},"x2":{"field":"b"},"y":{"field":"r","type":"quantitative","axis":null},"y2":{"field":"s"}}},
{"data":{"values":[{"a":-1.06,"r":-4.32,"t":"000000"},{"a":29.39,"r":-4.32,"t":"000000"},{"a":59.85,"r":-4.32,"t":"000000"},{"a":-1.06,"r":84.3,"t":"000000"},{"a":29.39,"r":84.3,"t":"000000"},{"a":59.85,"r":84.3,"t":"000000"}]},"mark":{"type":"text","font":"Liberation Serif","fontSize":14,"color":"#b0b0b0","align":"left","baseline":"middle"},"encoding":{"x":{"field":"a","type":"quantitative","axis":null},"y":{"field":"r","type":"quantitative","axis":null},"text":{"field":"t"}}},
{"data":{"values":[{"a":-9.72,"r":16.07,"t":"000000"},{"a":-9.72,"r":56.68,"t":"000000"},{"a":70.39,"r":16.07,"t":"000000"},{"a":70.39,"r":56.68,"t":"000000"}]},"mark":{"type":"text","font":"Liberation Serif","fontSize":14,"color":"#b0b0b0","align":"left","baseline":"middle","angle":270},"encoding":{"x":{"field":"a","type":"quantitative","axis":null},"y":{"field":"r","type":"quantitative","axis":null},"text":{"field":"t"}}},
{"data":{"values":[{"a":28.38,"r":91.98,"t":"0"},{"a":33.45,"r":91.98,"t":"0,5"},{"a":38.64,"r":91.98,"t":"1"},{"a":49.9,"r":91.98,"t":"2 Km"}]},"mark":{"type":"text","font":"Liberation Sans","fontSize":22,"color":"#333333","align":"center","baseline":"middle"},"encoding":{"x":{"field":"a","type":"quantitative","axis":null},"y":{"field":"r","type":"quantitative","axis":null},"text":{"field":"t"}}},
{"data":{"values":[{"a":62.39,"r":89.12,"t":"Projeção UTM"},{"a":62.39,"r":91.07,"t":"SIRGAS 2000"},{"a":62.39,"r":93.08,"t":"Zona 24S"}]},"mark":{"type":"text","font":"Liberation Sans","fontSize":28,"color":"#333333","align":"center","baseline":"middle"},"encoding":{"x":{"field":"a","type":"quantitative","axis":null},"y":{"field":"r","type":"quantitative","axis":null},"text":{"field":"t"}}},
{"data":{"values":[{"a":63.98,"r":3.81,"t":"N"}]},"mark":{"type":"text","font":"Liberation Serif","fontSize":24,"color":"#555555","align":"center","baseline":"middle"},"encoding":{"x":{"field":"a","type":"quantitative","axis":null},"y":{"field":"r","type":"quantitative","axis":null},"text":{"field":"t"}}},
{"data":{"values":[{"a":63.98,"r":7.53}]},"mark":{"type":"point","shape":"M0,-1L-0.66,1L0,0.58L0.66,1Z","size":5776,"filled":true,"fill":"#000000","opacity":1},"encoding":{"x":{"field":"a","type":"quantitative","axis":null},"y":{"field":"r","type":"quantitative","axis":null}}}
]}
